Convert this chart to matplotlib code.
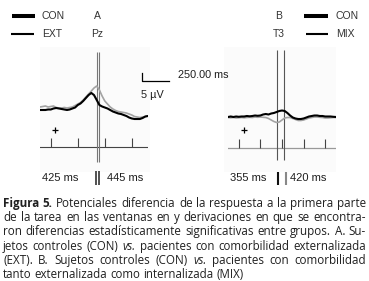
import matplotlib
matplotlib.use("Agg")
import matplotlib.pyplot as plt
import numpy as np

W, H = 369, 281

# ---------------- data ----------------
time_ms = np.arange(-100, 901, 25)

a_con = [1.25, 1.25, 1.25, 1.56, 1.56, 2.19, 2.5, 2.19, 1.88, 1.56,
         1.25, 1.56, 2.19, 2.81, 4.38, 5.31, 6.88, 8.75, 10.6, 11.9,
         10.6, 7.5, 4.38, 3.44, 2.81, 2.19, 1.25, 0.31, -0.31, -0.94,
         -1.25, -1.88, -2.5, -3.44, -4.06, -4.38, -4.38, -4.38, -3.75, -2.81,
         -2.5]
a_ext = [3.13, 3.44, 3.75, 3.13, 3.44, 3.75, 2.81, 2.5, 2.5, 2.81,
         2.5, 2.81, 3.13, 4.06, 5.0, 5.94, 7.5, 9.38, 11.25, 13.1,
         15.0, 16.25, 13.75, 10.0, 6.88, 5.0, 3.13, 1.88, 0.94, 0.31,
         0.0, -0.31, -0.63, -1.25, -1.88, -2.81, -3.13, -3.44, -3.13, -2.81,
         -2.5]
b_con = [0.63, 0.94, 0.63, 0.94, 0.75, 0.94, 0.94, 1.25, 1.06, 1.25,
         1.56, 1.38, 1.56, 2.19, 2.5, 2.19, 2.81, 3.13, 3.75, 4.38,
         4.69, 4.38, 3.13, 1.56, 0.31, -0.31, -0.63, -0.63, -0.31, 0.31,
         0.94, 1.25, 1.56, 1.56, 1.25, 1.25, 0.94, 0.94, 0.94, 0.75,
         0.63]
b_mix = [0.31, 0.13, 0.31, 0.0, 0.13, 0.31, 0.13, 0.31, 0.44, 0.31,
         0.63, 0.44, 0.63, 0.44, 0.31, -0.31, -1.25, -2.19, -2.81, -2.5,
         -1.25, 0.0, 0.31, 0.31, -0.31, -0.94, -1.56, -1.56, -1.25, -0.63,
         0.0, 0.31, 0.63, 0.63, 0.44, 0.31, 0.0, 0.0, 0.13, 0.31,
         0.31]

ticks_a = [0, 250, 500, 750]
ticks_b = [0, 200, 400, 600, 800]
win_a = [425, 445]
win_b = [355, 420]
win_a_labels = ["425 ms", "445 ms"]
win_b_labels = ["355 ms", "420 ms"]
panel_names = ["A", "B"]
electrodes = ["Pz", "T3"]
legend_a = ["CON", "EXT"]
legend_b = ["CON", "MIX"]
scale_ms = 250
scale_uv = 5

caption_lines = [
    "Figura 5. Potenciales diferencia de la respuesta a la primera parte",
    "de la tarea en las ventanas en y derivaciones en que se encontra-",
    "ron diferencias estadísticamente significativas entre grupos. A. Su-",
    "jetos controles (CON) vs. pacientes con comorbilidad externalizada",
    "(EXT). B. Sujetos controles (CON) vs. pacientes con comorbilidad",
    "tanto externalizada como internalizada (MIX)",
]

# ---------------- figure ----------------
fig = plt.figure(figsize=(W / 100, H / 100), dpi=100)
fig.patch.set_facecolor("white")

ov = fig.add_axes([0, 0, 1, 1])
ov.set_xlim(0, W)
ov.set_ylim(H, 0)
ov.axis("off")

TXT = "#1e1e1e"
SANS = "Liberation Sans"


def px_axes(left, right, top, bottom):
    return fig.add_axes([left / W, 1 - bottom / H, (right - left) / W, (bottom - top) / H])


PXUV = 1.6

# faint panel backgrounds
for (l, r) in [(40, 150), (224, 336)]:
    ov.add_patch(plt.Rectangle((l, 47), r - l, 125, color="#fbfbfb", lw=0, zorder=0))

# ---- panel A ----
axA = px_axes(40, 148, 45, 170)
base_a = 112
axA.set_xlim(-100, 900)
axA.set_ylim((base_a - 170) / PXUV, (base_a - 45) / PXUV)
axA.axis("off")
yax_a = (base_a - 147) / PXUV
axA.axhline(yax_a, color="#444444", lw=0.8)
axA.vlines(ticks_a, yax_a, yax_a + 9 / PXUV, color="#444444", lw=0.8)
axA.vlines(win_a, (base_a - 162) / PXUV, (base_a - 52) / PXUV, color="#777777", lw=0.8)
axA.plot(time_ms, a_ext, color="#a3a3a3", lw=1.2)
axA.plot(time_ms, a_con, color="black", lw=1.5)
axA.plot([37], [(base_a - 130) / PXUV], marker="+", color="black", ms=5, mew=0.9)
# scale bar
sx0 = 843
sy0 = (base_a - 81) / PXUV
axA.plot([sx0, sx0, sx0 + scale_ms], [sy0 + scale_uv, sy0, sy0], color="black", lw=0.9,
         clip_on=False)

# ---- panel B ----
axB = px_axes(228, 336, 45, 170)
base_b = 118
axB.set_xlim(-100, 900)
axB.set_ylim((base_b - 170) / PXUV, (base_b - 45) / PXUV)
axB.axis("off")
yax_b = (base_b - 148) / PXUV
axB.axhline(yax_b, color="#999999", lw=0.9)
axB.vlines(ticks_b, yax_b, yax_b + 9 / PXUV, color="#444444", lw=0.8)
axB.vlines(win_b, (base_b - 160) / PXUV, (base_b - 50) / PXUV, color="#555555", lw=0.8)
axB.plot(time_ms, b_mix, color="#a3a3a3", lw=1.2)
axB.plot(time_ms, b_con, color="black", lw=1.5)
axB.plot([46], [(base_b - 130) / PXUV], marker="+", color="black", ms=5, mew=0.9)

# ---- labels / legend ----
fs = 7.5
ov.text(97, 16, panel_names[0], ha="center", va="center", fontsize=fs, family=SANS, color="#333333")
ov.text(97, 34, electrodes[0], ha="center", va="center", fontsize=fs, family=SANS, color="#333333")
ov.text(279, 16, panel_names[1], ha="center", va="center", fontsize=fs, family=SANS, color="#333333")
ov.text(279, 34, electrodes[1], ha="center", va="center", fontsize=fs, family=SANS, color="#333333")

ov.plot([12, 35], [16, 16], color="black", lw=2.9, solid_capstyle="butt")
ov.plot([11, 34], [34, 34], color="black", lw=1.5, solid_capstyle="butt")
ov.text(42, 16, legend_a[0], ha="left", va="center", fontsize=fs, family=SANS, color="#333333")
ov.text(42, 34, legend_a[1], ha="left", va="center", fontsize=fs, family=SANS, color="#333333")
ov.plot([304, 328], [16, 16], color="black", lw=2.9, solid_capstyle="butt")
ov.plot([306, 328], [34, 34], color="black", lw=1.5, solid_capstyle="butt")
ov.text(335, 16, legend_b[0], ha="left", va="center", fontsize=fs, family=SANS, color="#333333")
ov.text(336, 34, legend_b[1], ha="left", va="center", fontsize=fs, family=SANS, color="#333333")

ov.text(178, 75, f"{scale_ms:.2f} ms", ha="left", va="center", fontsize=7.8, family=SANS, color=TXT)
ov.text(141, 95, f"{scale_uv} µV", ha="left", va="center", fontsize=7.8, family=SANS, color=TXT)

# window labels
ov.text(42, 178, win_a_labels[0], ha="left", va="center", fontsize=8, family=SANS, color=TXT)
ov.text(107, 178, win_a_labels[1], ha="left", va="center", fontsize=8, family=SANS, color=TXT)
ov.plot([96, 96], [171, 185], color="#222222", lw=1.1, solid_capstyle="butt")
ov.plot([99, 99], [171, 185], color="#222222", lw=1.1, solid_capstyle="butt")
ov.text(230, 178, win_b_labels[0], ha="left", va="center", fontsize=8, family=SANS, color=TXT)
ov.text(290, 178, win_b_labels[1], ha="left", va="center", fontsize=8, family=SANS, color=TXT)
ov.plot([278, 278], [172, 185], color="#111111", lw=1.5, solid_capstyle="butt")
ov.plot([285.5, 285.5], [172, 185], color="#888888", lw=1.5, solid_capstyle="butt")

# ---- caption (justified, per-line size fit) ----
renderer = fig.canvas.get_renderer()
CAP_FONT = "Open Sans"
X0, X1 = 3.0, 366.0
baselines = [207, 221.2, 235.4, 249.6, 263.8, 278]
FS_MIN, FS_MAX, FS_LAST = 7.3, 8.4, 8.3


def word_style(li, wi, w):
    if li == 0 and wi < 2:
        return "bold", "normal"
    if w == "vs.":
        return "normal", "italic"
    return "normal", "normal"


def word_widths(li, fsz):
    ws = []
    for wi, w in enumerate(caption_lines[li].split(" ")):
        wt, st = word_style(li, wi, w)
        t = fig.text(0, 0, w, fontsize=fsz, family=CAP_FONT, fontweight=wt, fontstyle=st)
        ws.append(t.get_window_extent(renderer).width)
        t.remove()
    return ws


def space_w(f):
    return 0.30 * f * 100 / 72


n_lines = len(caption_lines)
for li, line in enumerate(caption_lines):
    words = line.split(" ")
    if li < n_lines - 1:
        ref = 8.0
        ws = word_widths(li, ref)
        nat = sum(ws) + space_w(ref) * (len(words) - 1)
        f = ref * (X1 - X0) / nat
        f = max(FS_MIN, min(FS_MAX, f))
        ws = word_widths(li, f)
        gap = ((X1 - X0) - sum(ws)) / (len(words) - 1)
    else:
        f = FS_LAST
        ws = word_widths(li, f)
        gap = 0.26 * f * 100 / 72
    x = X0
    for wi, w in enumerate(words):
        wt, st = word_style(li, wi, w)
        ov.text(x, baselines[li], w, ha="left", va="baseline", fontsize=f,
                family=CAP_FONT, fontweight=wt, fontstyle=st, color="#202020")
        x += ws[wi] + gap

fig.savefig("out.png", dpi=100)
